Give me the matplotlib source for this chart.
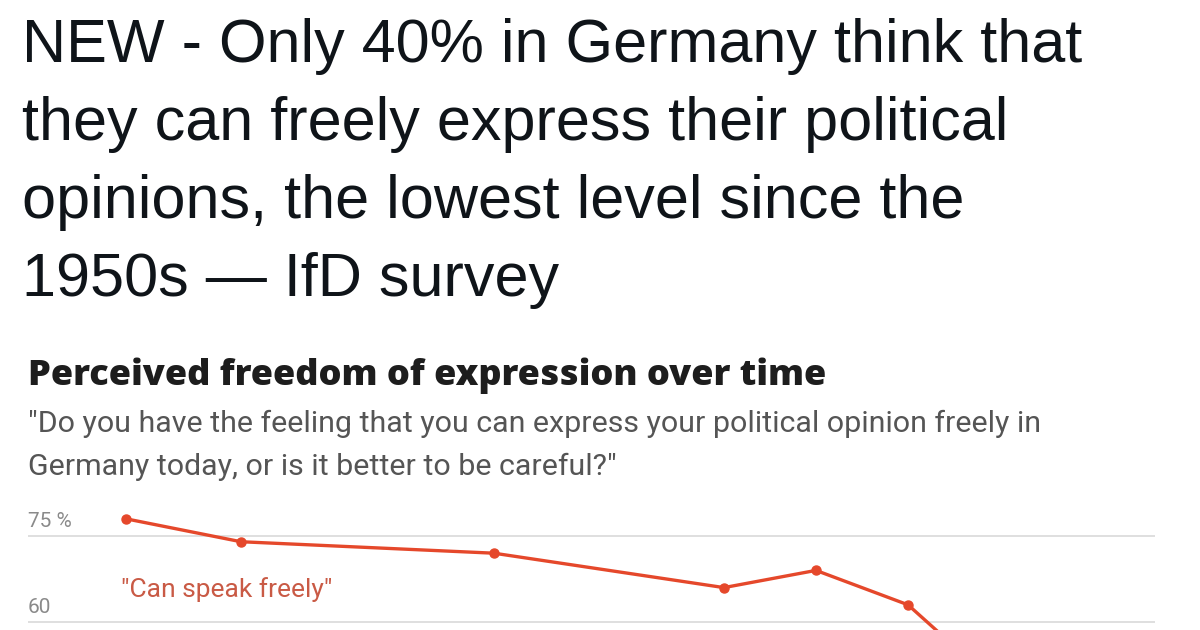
import matplotlib
matplotlib.use("Agg")
from matplotlib import pyplot as plt
from matplotlib import transforms


# Survey waves (IfD), share saying "can speak freely", in percent
years = [1990, 1995, 2006, 2016, 2020, 2024, 2029]
can_speak = [78, 74, 72, 66, 69, 63, 45]

grid_values = [75, 60, 45, 30]
grid_labels = ["75 %", "60"]   # the lower ones fall outside the crop

headline = ("NEW - Only 40% in Germany think that\n"
            "they can freely express their political\n"
            "opinions, the lowest level since the\n"
            "1950s \u2014 IfD survey")
chart_title = "Perceived freedom of expression over time"
chart_sub = ["\"Do you have the feeling that you can express your political opinion freely in",
             "Germany today, or is it better to be careful?\""]
series_label = "\"Can speak freely\""

line_color = "#e5482b"

W, H = 1200, 630
fig = plt.figure(figsize=(W / 100, H / 100), dpi=100)
fig.patch.set_facecolor("white")

# headline (tweet text)
fig.text(22 / W, 1 - 18 / H, headline, ha="left", va="top",
         fontsize=44, color="#0f1419", family="Liberation Sans",
         linespacing=1.48)

# chart header
fig.text(28 / W, 1 - 385 / H, chart_title, ha="left", va="baseline",
         fontsize=26, fontweight=800, color="#1d1d1d", family="Open Sans")
for i, line in enumerate(chart_sub):
    fig.text(28 / W, 1 - (432 + 43 * i) / H, line, ha="left", va="baseline",
             fontsize=21.9, color="#555555", family="Roboto")

# axes placed so that 75 sits at y=536px and 60 at y=622px
px_per_unit = (622 - 536) / 15
y_top, y_bot = 80, 30
top_px = 536 - (y_top - 75) * px_per_unit
bot_px = 536 + (75 - y_bot) * px_per_unit
ax = fig.add_axes([28 / W, 1 - bot_px / H, (1155 - 28) / W, (bot_px - top_px) / H])
ax.set_ylim(y_bot, y_top)
ax.set_xlim(1985.74, 2034.74)
ax.axis("off")

trans = transforms.blended_transform_factory(ax.transAxes, ax.transData)
for v in grid_values:
    ax.plot([0, 1], [v, v], transform=trans, color="#dcdcdc", lw=1.3, zorder=1)
for v, lab in zip(grid_values, grid_labels):
    ax.text(0, v + 1.6, lab, transform=trans, ha="left", va="baseline",
            fontsize=15, color="#8a8a8a", family="Roboto")

ax.plot(years, can_speak, color=line_color, lw=2.4, marker="o", markersize=6.5,
        zorder=3, clip_on=False)

ax.text(years[0] - 0.2, 65.6, series_label, ha="left", va="center",
        fontsize=19, color="#c95a45", family="Roboto")

fig.savefig("out.png", dpi=100, facecolor="white")
